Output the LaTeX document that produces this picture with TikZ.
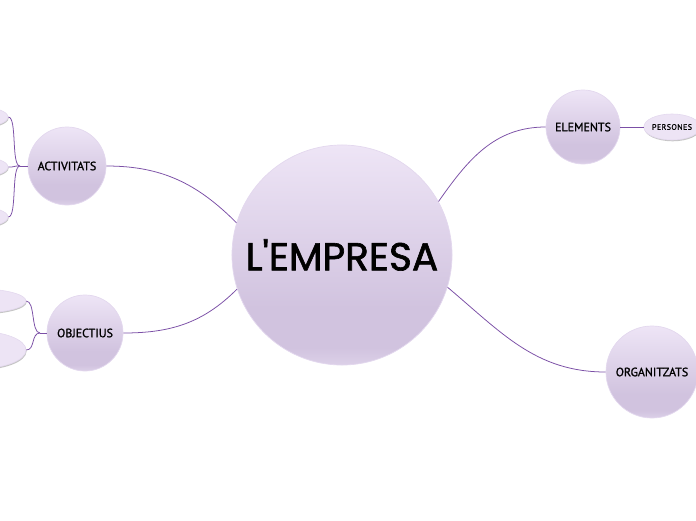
\documentclass[tikz,border=0pt]{standalone}
\usepackage{fontspec}
\setmainfont{Poppins}
\newfontfamily\titlefont{Poppins}[FakeBold=1.6]
\newfontfamily\labelfont{PT Sans}[FakeBold=1.2]
\newfontfamily\leaffont{PT Sans}[FakeBold=1.2, LetterSpace=6]
\usetikzlibrary{shapes.geometric,shadows}

\definecolor{lavtop}{HTML}{EEE5F6}
\definecolor{lavbot}{HTML}{D1C3DF}
\definecolor{lavlow}{HTML}{DCD0E8}
\definecolor{lavedge}{HTML}{E3D8EE}
\definecolor{leaffill}{HTML}{EDE4F5}
\definecolor{twig}{HTML}{7B4FA6}

% vertical shading of the bubbles (path covers 25bp..75bp)
\pgfdeclareverticalshading{bubbleshade}{100bp}{color(0bp)=(lavlow); color(25bp)=(lavlow);
  color(29bp)=(lavbot); color(38bp)=(lavbot); color(75bp)=(lavtop); color(100bp)=(lavtop)}

\tikzset{
  bubble/.style={circle, draw=lavedge, line width=0.5pt, shading=bubbleshade, inner sep=0pt,
    font=\labelfont\fontsize{8.5}{9}\selectfont},
  leaf/.style={ellipse, draw=lavedge, line width=0.4pt, fill=leaffill, inner sep=0pt,
    drop shadow={shadow xshift=0.4pt, shadow yshift=-0.9pt, fill=black!45, opacity=0.5},
    font=\leaffont\fontsize{5.6}{6}\selectfont},
  branch/.style={draw=twig, line width=0.55pt},
}

\begin{document}
\begin{tikzpicture}[x=0.025cm, y=-0.025cm]
  % Frame (pixel grid of the reference)
  \useasboundingbox (0,0) rectangle (696,520);

  % Centre and main topics
  \node[bubble, minimum size=5.5cm, font=\titlefont\fontsize{27.8}{30}\selectfont] (empresa) at (342,255) {L\textquotesingle EMPRESA};
  \node[bubble, minimum size=1.95cm] (activitats) at (67,166) {ACTIVITATS};
  \node[bubble, minimum size=1.9cm] (objectius) at (85,333) {OBJECTIUS};
  \node[bubble, minimum size=1.85cm] (elements) at (583,127) {ELEMENTS};
  \node[bubble, minimum size=2.3cm] (organitzats) at (652,372) {ORGANITZATS};

  % Subtopics (partly outside the frame)
  \node[leaf, minimum width=1.4cm, minimum height=0.65cm] (persones) at (672,127) {PERSONES};
  \node[leaf, minimum width=1.4cm, minimum height=0.5cm] (act1) at (-20,117) {};
  \node[leaf, minimum width=1.4cm, minimum height=0.5cm] (act2) at (-20,167) {};
  \node[leaf, minimum width=1.4cm, minimum height=0.5cm] (act3) at (-20,217) {};
  \node[leaf, minimum width=2.3cm, minimum height=0.6cm] (obj1) at (-20,301) {};
  \node[leaf, minimum width=2.5cm, minimum height=0.95cm] (obj2) at (-24,350) {};

  % Branches from the centre
  \draw[branch] (activitats.east) to[out=0, in=135] (empresa.163);
  \draw[branch] (objectius.east) to[out=0, in=225] (empresa.198);
  \draw[branch] (empresa.29) to[out=55, in=180] (elements.west);
  \draw[branch] (empresa.-17) to[out=-40, in=180] (organitzats.west);
  \draw[branch] (elements.east) -- (persones.west);

  % Forks to the subtopics
  \coordinate (actfork) at (20,166);
  \coordinate (objfork) at (40,333);
  \draw[branch] (activitats.west) -- (actfork);
  \draw[branch] (objectius.west) -- (objfork);
  \foreach \leaf in {act1,act2,act3}
    \draw[branch] (actfork) .. controls +(-9,0) and +(9,0) .. (\leaf.east);
  \foreach \leaf in {obj1,obj2}
    \draw[branch] (objfork) .. controls +(-9,0) and +(9,0) .. (\leaf.east);
\end{tikzpicture}
\end{document}
